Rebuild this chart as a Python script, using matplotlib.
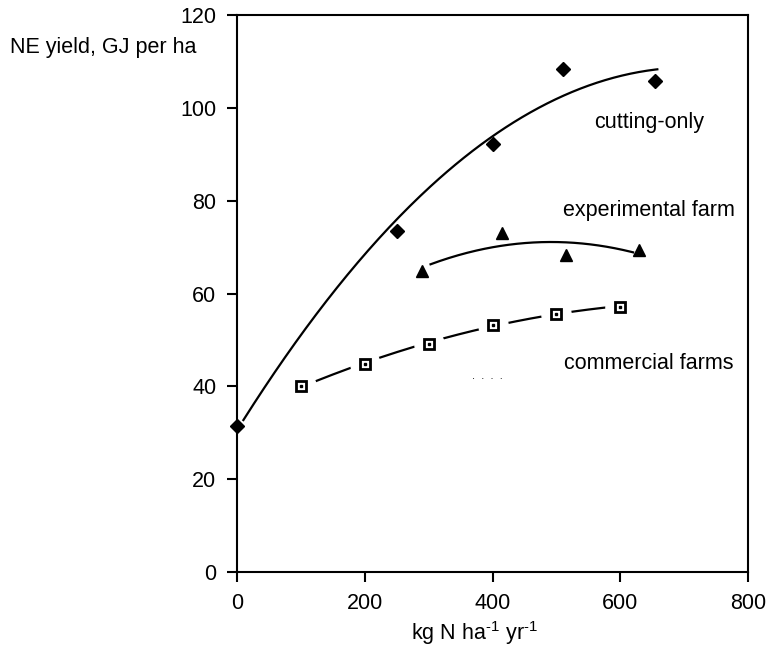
import numpy as np
import matplotlib
matplotlib.use("Agg")
import matplotlib.pyplot as plt

plt.rcParams['font.family'] = ['Liberation Sans', 'DejaVu Sans']
plt.rcParams['mathtext.fontset'] = 'custom'
plt.rcParams['mathtext.rm'] = 'Liberation Sans'

# ---- data ----
cutting_x = [0, 250, 400, 510, 655]
cutting_y = [31.5, 73.5, 92.2, 108.4, 105.8]
exp_x = [290, 415, 515, 630]
exp_y = [64.9, 73.0, 68.3, 69.4]
comm_x = [100, 200, 300, 400, 500, 600]
comm_y = [40.0, 44.9, 49.2, 53.3, 55.7, 57.2]

# drawn extent of each fitted curve
cutting_range = [10, 658]
exp_range = [303, 620]
comm_range = [100, 600]

labels = ["cutting-only", "experimental farm", "commercial farms"]
label_pos_x = [645, 645, 645]
label_pos_y = [97, 78, 45]

xticks = [0, 200, 400, 600, 800]
yticks = [0, 20, 40, 60, 80, 100, 120]

FS = 15.5

fig = plt.figure(figsize=(7.68, 6.65), dpi=100)
ax = fig.add_axes([0.3086, 0.1398, 0.974 - 0.3086, 0.977 - 0.1398])

def fit_curve(x, y, rng, deg=2):
    c = np.polyfit(x, y, deg)
    xs = np.linspace(rng[0], rng[1], 200)
    return xs, np.polyval(c, xs)

# cutting-only
xs, ys = fit_curve(cutting_x, cutting_y, cutting_range)
ax.plot(xs, ys, color='black', lw=1.6, zorder=2)
ax.plot(cutting_x, cutting_y, 'D', ms=7, color='black', zorder=4, clip_on=False)

# experimental farm
xs, ys = fit_curve(exp_x, exp_y, exp_range)
ax.plot(xs, ys, color='black', lw=1.6, zorder=2)
ax.plot(exp_x, exp_y, '^', ms=8.5, color='black', zorder=4)

# commercial farms: broken line with gaps around markers
xs, ys = fit_curve(comm_x, comm_y, comm_range)
ax.plot(xs, ys, color='black', lw=1.6, zorder=2)
ax.plot(comm_x, comm_y, 'o', ms=21, color='white', zorder=3)
ax.plot(comm_x, comm_y, 's', ms=7, mfc='white', mec='black', mew=2.0, zorder=4)
ax.plot(comm_x, comm_y, 's', ms=1.6, color='black', zorder=5)

for t, lx, ly in zip(labels, label_pos_x, label_pos_y):
    ax.text(lx, ly, t, ha='center', va='center', fontsize=FS)

ax.text(392, 42.3, ".  .  .  .", ha='center', va='center', fontsize=8)

ax.set_xlim(0, 800)
ax.set_ylim(0, 120)
ax.set_xticks(xticks)
ax.set_yticks(yticks)
ax.tick_params(direction='out', length=7, width=1.5, labelsize=FS, pad=8)
for s in ax.spines.values():
    s.set_linewidth(1.5)

fig.text(10 / 768, 1 - 47 / 665, "NE yield, GJ per ha", ha='left', va='center', fontsize=FS)
fig.text(475 / 768, 1 - 633 / 665, r"kg N ha$^{\mathrm{\text{-}1}}$ yr$^{\mathrm{\text{-}1}}$",
         ha='center', va='center', fontsize=FS)

fig.savefig("out.png", dpi=100)
